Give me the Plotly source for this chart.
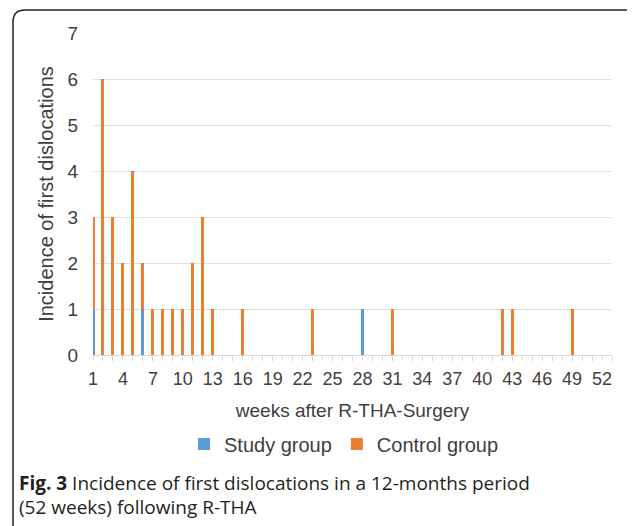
import plotly.graph_objects as go

weeks = list(range(1, 53))
study_weeks = [1, 6, 28]
study_vals = [1, 1, 1]
control_weeks = [1, 2, 3, 4, 5, 6, 7, 8, 9, 10, 11, 12, 13, 16, 23, 31, 42, 43, 49]
control_vals = [2, 6, 3, 2, 4, 1, 1, 1, 1, 1, 2, 3, 1, 1, 1, 1, 1, 1, 1]
x_ticks = list(range(1, 53, 3))
y_ticks = list(range(0, 8))

# page offset (body margin) in px; target positions given in screen px
OFF = 8
W, H = 635, 526
L, R, T, B = 93 - OFF, 612 - OFF, 33 - OFF, 355 - OFF
pw, ph = R - L, B - T

def px(x):
    return (x - OFF - L) / pw

def py(y):
    return 1 - (y - OFF - T) / ph

fig = go.Figure()
fig.add_trace(go.Bar(x=study_weeks, y=study_vals, name="Study group",
                     marker=dict(color="#5B9BD5", line=dict(width=0))))
fig.add_trace(go.Bar(x=control_weeks, y=control_vals, name="Control group",
                     marker=dict(color="#ED7D31", line=dict(width=0))))

# rounded frame (screen px)
x0, y0, x1, y1, r = 13, 10, 637, 560, 12
path = (f"M {px(x0)},{py(y1)} L {px(x0)},{py(y0 + r)} "
        f"Q {px(x0)},{py(y0)} {px(x0 + r)},{py(y0)} "
        f"L {px(x1 - r)},{py(y0)} Q {px(x1)},{py(y0)} {px(x1)},{py(y0 + r)} "
        f"L {px(x1)},{py(y1)}")

fig.update_layout(
    width=W, height=H,
    margin=dict(l=L, r=W - R, t=T, b=H - B),
    paper_bgcolor="white", plot_bgcolor="white",
    barmode="stack", bargap=0.7,
    font=dict(family="Liberation Sans, Arial, sans-serif", color="#404040"),
    xaxis=dict(range=[1, 53], tickvals=x_ticks, ticktext=[str(v) for v in x_ticks],
               tickfont=dict(size=18, color="#404040"), ticklabelstandoff=2,
               showgrid=False, showline=True, linecolor="#d9d9d9", linewidth=1,
               ticks="outside", ticklen=5, tickcolor="#d9d9d9",
               minor=dict(dtick=1, tick0=1, ticks="outside", ticklen=5, tickcolor="#d9d9d9"),
               title=dict(text="weeks after R-THA-Surgery", font=dict(size=19, color="#404040"),
                          standoff=16),
               zeroline=False),
    yaxis=dict(range=[0, 7], tickvals=y_ticks, tickfont=dict(size=19, color="#404040"),
               showgrid=True, gridcolor="#e0e0e0", gridwidth=1, zeroline=False,
               ticks="", ticklabelstandoff=14,
               title=dict(text="Incidence of first dislocations", font=dict(size=20, color="#404040"),
                          standoff=8)),
    legend=dict(orientation="h", x=px(344), xanchor="center", y=py(444), yanchor="middle",
                font=dict(size=20, color="#404040"), traceorder="normal",
                itemwidth=30, bgcolor="rgba(0,0,0,0)"),
    shapes=[dict(type="path", xref="paper", yref="paper", path=path,
                 line=dict(color="#222222", width=1.5))],
    annotations=[
        dict(xref="paper", yref="paper", x=px(17), y=py(483), xanchor="left", yanchor="middle",
             showarrow=False, align="left",
             text="<b>Fig. 3</b> Incidence of first dislocations in a 12-months period",
             font=dict(family="Open Sans, sans-serif", size=19, color="#231f20")),
        dict(xref="paper", yref="paper", x=px(17), y=py(507), xanchor="left", yanchor="middle",
             showarrow=False, align="left",
             text="(52 weeks) following R-THA",
             font=dict(family="Open Sans, sans-serif", size=19, color="#231f20")),
    ],
)

fig.write_html("out.html")
